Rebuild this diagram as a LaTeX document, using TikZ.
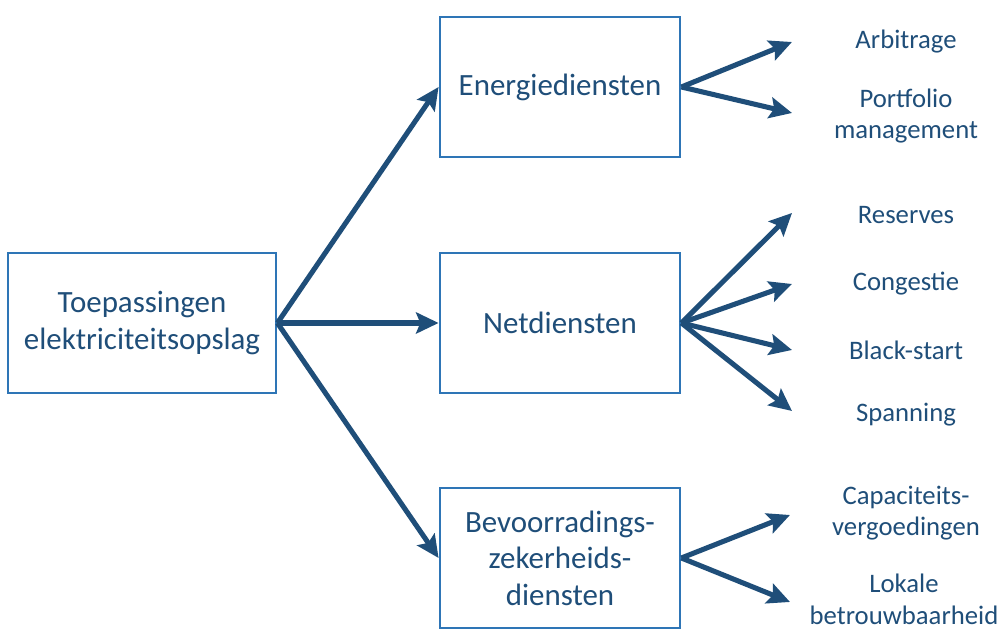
\documentclass[tikz,border=0pt]{standalone}
\usepackage{fontspec}
\setmainfont{Carlito}
\usepackage{xcolor}
\usepackage{tikz}
\usetikzlibrary{arrows.meta, positioning}
\definecolor{boxblue}{HTML}{2E75B6}
\definecolor{darkblue}{HTML}{1F4E79}

\begin{document}
\begin{tikzpicture}[
    box/.style   = {rectangle, draw=boxblue, line width=2pt, fill=white,
                    minimum width=6cm, minimum height=3.5cm, align=center,
                    text=darkblue, font=\fontsize{22}{26}\selectfont},
    lbl/.style   = {align=center, text=darkblue, inner sep=0pt,
                    font=\fontsize{19}{22.5}\selectfont},
    arr/.style   = {-{Stealth[length=16pt, width=15pt, inset=3pt]},
                    line width=3.6pt, color=darkblue}
  ]
  \useasboundingbox (0,0) rectangle (25.1,15.8);

  % ── Boxes ────────────────────────────────────────────────────────────────
  \node[box, minimum width=6.7cm] (toep) at (3.55, 7.725) {Toepassingen\\elektriciteitsopslag};
  \node[box] (ener) at (14.0, 13.625) {Energiediensten};
  \node[box] (net)  at (14.0,  7.725) {Netdiensten};
  \node[box] (bev)  at (14.0,  1.85)  {Bevoorradings-\\zekerheids-\\diensten};

  % ── Labels ───────────────────────────────────────────────────────────────
  \node[lbl] (arb)  at (22.65, 14.75)  {Arbitrage};
  \node[lbl] (port) at (22.65, 12.9)   {Portfolio\\management};
  \node[lbl] (res)  at (22.65, 10.425) {Reserves};
  \node[lbl] (cong) at (22.65,  8.7)   {Congestie};
  \node[lbl] (black) at (22.65, 7.05)  {Black-start};
  \node[lbl] (span) at (22.65,  5.425) {Spanning};
  \node[lbl] (cap)  at (22.65,  2.975) {Capaciteits-\\vergoedingen};
  \node[lbl] (lok)  at (22.6,   0.82)  {Lokale\\betrouwbaarheid};

  % ── Arrow tips ───────────────────────────────────────────────────────────
  \coordinate (arb-in)   at (19.8, 14.75);
  \coordinate (port-in)  at (19.8, 12.975);
  \coordinate (res-in)   at (19.8, 10.475);
  \coordinate (cong-in)  at (19.8,  8.7);
  \coordinate (black-in) at (19.8,  7.05);
  \coordinate (span-in)  at (19.8,  5.525);
  \coordinate (cap-in)   at (19.75, 2.925);
  \coordinate (lok-in)   at (19.75, 0.75);

  % ── Arrows ───────────────────────────────────────────────────────────────
  \draw[arr] (toep.east) -- (ener.west);
  \draw[arr] (toep.east) -- (net.west);
  \draw[arr] (toep.east) -- (bev.west);

  \draw[arr] (ener.east) -- (arb-in);
  \draw[arr] (ener.east) -- (port-in);

  \draw[arr] (net.east) -- (res-in);
  \draw[arr] (net.east) -- (cong-in);
  \draw[arr] (net.east) -- (black-in);
  \draw[arr] (net.east) -- (span-in);

  \draw[arr] (bev.east) -- (cap-in);
  \draw[arr] (bev.east) -- (lok-in);
\end{tikzpicture}
\end{document}
